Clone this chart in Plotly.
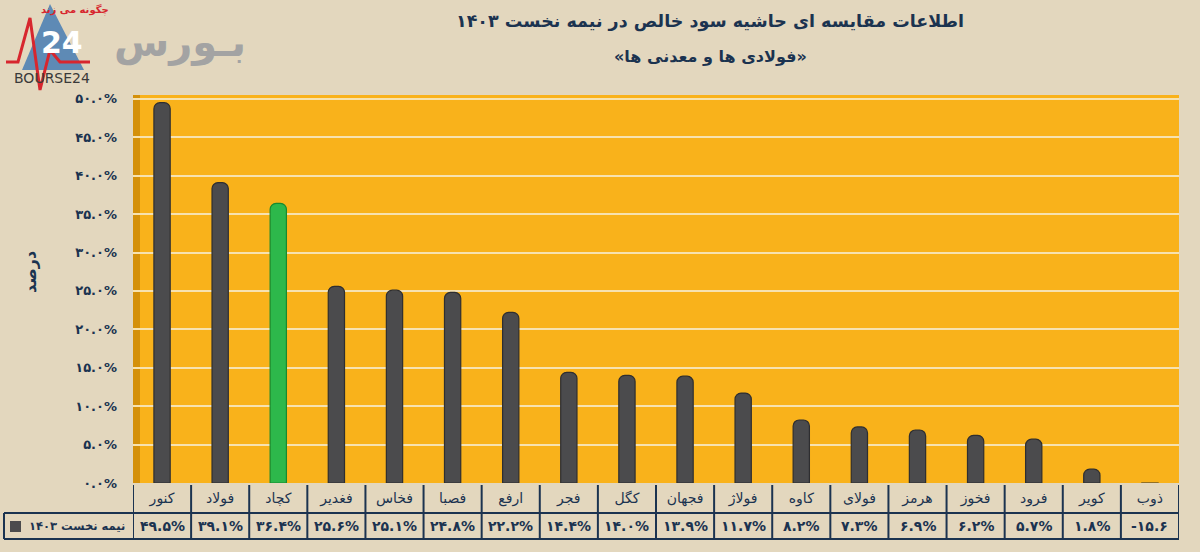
import plotly.graph_objects as go

# data
symbols = ["کنور", "فولاد", "کچاد", "فغدیر", "فخاس", "فصبا", "ارفع", "فجر", "کگل",
           "فجهان", "فولاژ", "کاوه", "فولای", "هرمز", "فخوز", "فرود", "کویر", "ذوب"]
margin_pct = [49.5, 39.1, 36.4, 25.6, 25.1, 24.8, 22.2, 14.4, 14.0,
              13.9, 11.7, 8.2, 7.3, 6.9, 6.2, 5.7, 1.8, -15.6]
highlight = "کچاد"
y_ticks = [0, 5, 10, 15, 20, 25, 30, 35, 40, 45, 50]
series_name = "نیمه نخست ۱۴۰۳"

FA = str.maketrans("0123456789", "۰۱۲۳۴۵۶۷۸۹")


def fa(s):
    return s.translate(FA)


def value_label(v):
    # the negative one is printed without percent sign in the source
    return fa(f"{v:.1f}%") if v >= 0 else fa(f"{v:.1f}")


NAVY = "#1B3350"
PAGE = "#E3D7BE"
ORANGE = "#F9B21B"
FONT = "DejaVu Sans, sans-serif"

# pixel -> paper helpers (plot area is 133..1179 x, 95..483 y)
L, R, T, B = 133, 1179, 95, 483


def px(x):
    return (x - L) / (R - L)


def py(y):
    return (B - y) / (B - T)


def note(x, y, text, size, color=NAVY, bold=True, **kw):
    d = dict(x=px(x), y=py(y), xref="paper", yref="paper", text=text, showarrow=False,
             xanchor="center", yanchor="middle",
             font=dict(family=FONT, size=size, color=color, weight="bold" if bold else "normal"))
    d.update(kw)
    return d


bar_colors = ["#2DB84B" if s == highlight else "#4B4B4D" for s in symbols]
bar_lines = ["#178A30" if s == highlight else "#2E2E30" for s in symbols]

fig = go.Figure()
fig.add_trace(go.Bar(
    x=symbols, y=margin_pct,
    width=0.28,
    marker=dict(color=bar_colors, line=dict(color=bar_lines, width=1.2)),
    hovertemplate="%{x}: %{y:.1f}%<extra></extra>",
))

shapes = []
# darker left wall of the 3D box
shapes.append(dict(type="rect", xref="paper", yref="paper", x0=0, x1=px(140),
                   y0=0, y1=1, fillcolor="#D4900A", line=dict(width=0), layer="below"))

# table grid
row_mid = py(513)
row_bot = py(539)
for i in range(len(symbols) + 1):
    shapes.append(dict(type="line", xref="x", yref="paper", x0=i - 0.5, x1=i - 0.5,
                       y0=row_bot, y1=py(485), line=dict(color=NAVY, width=2)))
shapes.append(dict(type="line", xref="paper", yref="paper", x0=px(4), x1=1,
                   y0=row_mid, y1=row_mid, line=dict(color=NAVY, width=2)))
shapes.append(dict(type="line", xref="paper", yref="paper", x0=px(4), x1=1,
                   y0=row_bot, y1=row_bot, line=dict(color=NAVY, width=2)))
shapes.append(dict(type="line", xref="paper", yref="paper", x0=px(4), x1=px(4),
                   y0=row_bot, y1=row_mid, line=dict(color=NAVY, width=2)))
# legend key square
shapes.append(dict(type="rect", xref="paper", yref="paper", x0=px(10), x1=px(21),
                   y0=py(532), y1=py(521), fillcolor="#4B4B4D", line=dict(width=0)))

# logo (rough)
shapes.append(dict(type="path", xref="paper", yref="paper",
                   path=f"M {px(22)} {py(70)} L {px(50)} {py(4)} L {px(84)} {py(70)} Z",
                   fillcolor="#5E8AB5", line=dict(width=0)))
zig = [(6, 62), (18, 62), (30, 18), (40, 90), (50, 50), (60, 62), (90, 62)]
shapes.append(dict(type="path", xref="paper", yref="paper",
                   path="M " + " L ".join(f"{px(a)} {py(b)}" for a, b in zig),
                   line=dict(color="#D7262E", width=3)))

annotations = []
for s, v in zip(symbols, margin_pct):
    annotations.append(dict(x=s, y=py(526), xref="x", yref="paper",
                            xanchor="center", yanchor="middle",
                            text=value_label(v), showarrow=False,
                            font=dict(family=FONT, size=14, color=NAVY, weight="bold")))
annotations.append(note(127, 526, series_name, 11.5, xanchor="right"))
annotations.append(note(30, 272, "درصد", 16, textangle=-90))
annotations.append(note(710, 21, "اطلاعات مقایسه ای حاشیه سود خالص در نیمه نخست ۱۴۰۳", 17.5))
annotations.append(note(710, 57, "«فولادی ها و معدنی ها»", 16))
# logo texts
annotations.append(note(62, 42, "24", 30, color="white"))
annotations.append(note(180, 42, "بـورس", 40, color="#A3A3A3"))
annotations.append(note(52, 78, "BOURSE24", 14, color="#3A3A3A", bold=False))
annotations.append(note(75, 10, "چگونه می زند", 10, color="#D7262E"))

fig.update_layout(
    width=1200, height=552,
    margin=dict(l=L, r=1200 - R, t=T, b=552 - B),
    paper_bgcolor=PAGE,
    plot_bgcolor=ORANGE,
    showlegend=False,
    bargap=0.7,
    barcornerradius=6,
    shapes=shapes,
    annotations=annotations,
    xaxis=dict(range=[-0.5, len(symbols) - 0.5], showgrid=False, zeroline=False,
               ticks="", ticklabelstandoff=5,
               tickfont=dict(family=FONT, size=14, color=NAVY)),
    yaxis=dict(range=[0, 50.5], tickvals=y_ticks,
               ticktext=[fa(f"{t:.1f}%") for t in y_ticks],
               gridcolor="#F7E2B0", gridwidth=1.5, zeroline=False,
               tickfont=dict(family=FONT, size=13, color=NAVY, weight="bold"),
               ticklabelstandoff=15),
)

fig.write_html("out.html", config={"displayModeBar": False},
               post_script="document.body.style.margin='0px';")
